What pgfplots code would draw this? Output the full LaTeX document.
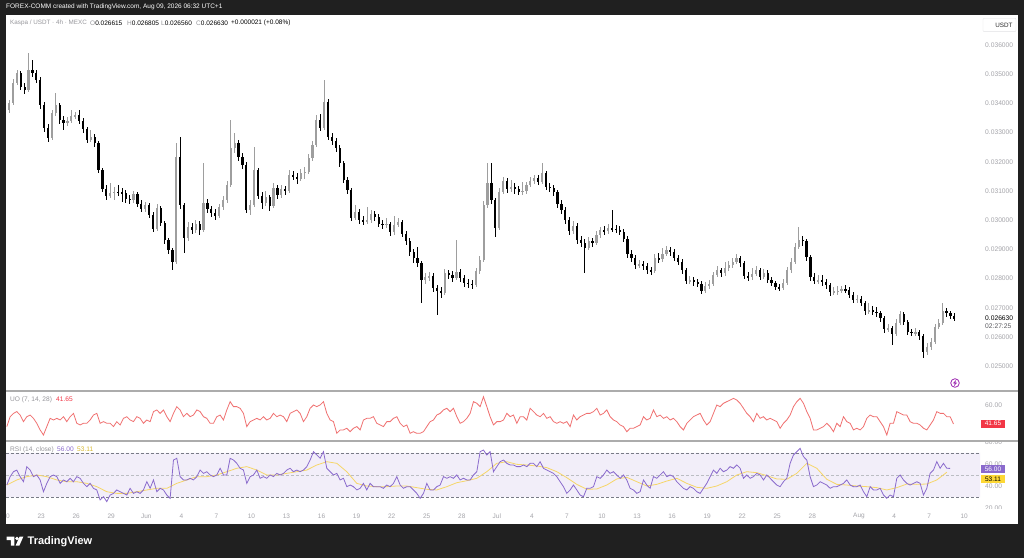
\documentclass[border=0pt]{standalone}
\usepackage{fontspec}
\setmainfont{Liberation Sans}
\usepackage{pgfplots}
\usepackage{pgfplotstable}
\pgfplotsset{compat=1.18}
\definecolor{framec}{RGB}{32,32,32}
\definecolor{upc}{RGB}{158,158,158}
\definecolor{dnc}{RGB}{0,0,0}
\definecolor{uoc}{RGB}{240,112,112}
\definecolor{rsic}{RGB}{138,106,204}
\definecolor{mac}{RGB}{246,214,104}
\definecolor{bandc}{RGB}{242,238,249}
\definecolor{lblc}{RGB}{165,165,170}
\definecolor{legc}{RGB}{150,150,155}
\definecolor{sepc}{RGB}{172,172,172}
\definecolor{flagr}{RGB}{242,54,69}
\definecolor{flagy}{RGB}{253,216,53}
\definecolor{boltc}{RGB}{156,39,176}
\definecolor{dashc}{RGB}{120,123,134}
\newcommand\fs[1]{\fontsize{#1}{#1}\selectfont}

\pgfplotstableread{
i O H L C
0 337.7 341.2 336.8 340.1
1 340.1 348.3 339.4 347.0
2 347.0 351.6 346.2 350.4
3 350.4 351.2 344.5 345.6
4 345.6 347.0 343.2 344.6
5 344.6 357.3 343.9 351.4
6 351.4 354.9 349.2 350.4
7 350.4 351.3 346.9 348.0
8 348.0 348.9 338.2 339.5
9 339.5 340.4 330.1 331.6
10 331.6 332.8 326.9 328.2
11 328.2 337.9 327.6 336.7
12 336.7 343.6 335.8 339.5
13 339.5 340.2 333.1 334.3
14 334.3 335.6 331.0 333.3
15 333.3 335.2 332.4 334.0
16 334.0 337.8 333.2 335.7
17 335.7 337.1 334.6 336.0
18 336.0 337.6 333.1 334.0
19 334.0 334.9 330.0 331.2
20 331.2 332.0 326.3 327.5
21 327.5 330.9 326.8 328.5
22 328.5 329.4 325.1 326.4
23 326.4 327.0 316.0 317.2
24 317.2 318.0 309.5 310.7
25 310.7 311.9 307.0 308.3
26 308.3 312.8 307.6 309.3
27 309.3 311.4 306.9 309.7
28 309.7 312.1 308.2 309.5
29 309.5 311.0 306.4 309.3
30 309.3 310.2 306.0 307.3
31 307.3 308.8 305.7 306.9
32 306.9 310.1 306.0 309.0
33 309.0 309.8 304.6 305.5
34 305.5 306.9 302.7 303.8
35 303.8 306.4 302.9 305.2
36 305.2 306.0 300.6 301.8
37 301.8 302.9 295.8 297.0
38 297.0 305.4 296.3 304.2
39 304.2 305.0 297.9 299.0
40 299.0 299.8 292.0 293.2
41 293.2 294.0 288.5 289.8
42 289.8 290.6 282.9 285.7
43 285.7 326.4 284.9 321.6
44 321.6 328.5 304.0 305.2
45 305.2 306.0 288.8 293.9
46 293.9 299.4 292.8 297.7
47 297.7 299.0 295.2 296.6
48 296.6 300.1 295.7 298.7
49 298.7 299.6 294.9 296.6
50 296.6 319.6 295.8 305.9
51 305.9 307.1 302.6 303.8
52 303.8 305.0 301.1 302.5
53 302.5 303.8 300.2 301.4
54 301.4 305.7 300.6 304.5
55 304.5 308.4 303.5 306.9
56 306.9 313.4 305.8 312.1
57 312.1 334.3 311.2 324.7
58 324.7 329.8 323.1 326.4
59 326.4 327.3 320.2 321.6
60 321.6 323.0 317.5 318.9
61 318.9 319.8 302.3 303.5
62 303.5 306.9 301.8 305.2
63 305.2 325.1 304.6 317.2
64 317.2 318.0 307.1 308.3
65 308.3 309.5 303.7 305.9
66 305.9 309.9 305.0 307.9
67 307.9 308.7 303.2 304.9
68 304.9 312.6 304.1 311.0
69 311.0 312.2 307.4 308.6
70 308.6 312.0 307.7 310.7
71 310.7 311.8 308.6 310.0
72 310.0 317.1 309.2 315.5
73 315.5 316.9 313.6 314.8
74 314.8 316.3 312.5 314.1
75 314.1 317.4 313.3 316.2
76 316.2 318.1 314.0 316.5
77 316.5 322.5 315.7 321.3
78 321.3 327.2 320.4 325.8
79 325.8 335.9 325.0 334.3
80 334.3 336.2 330.5 331.6
81 331.6 348.0 330.8 340.5
82 340.5 341.4 327.4 328.5
83 328.5 330.0 325.9 327.1
84 327.1 328.3 323.4 324.7
85 324.7 325.9 318.2 319.6
86 319.6 320.4 312.6 313.8
87 313.8 314.9 309.0 310.3
88 310.3 311.1 299.6 300.8
89 300.8 305.2 299.9 302.8
90 302.8 303.9 298.7 300.1
91 300.1 301.6 298.2 299.4
92 299.4 304.5 298.6 300.1
93 300.1 303.4 299.2 302.1
94 302.1 303.0 299.8 301.1
95 301.1 302.2 297.6 298.7
96 298.7 300.0 297.1 298.4
97 298.4 300.9 297.5 298.7
98 298.7 299.5 294.7 295.9
99 295.9 301.3 295.0 298.4
100 298.4 300.7 297.6 299.4
101 299.4 300.2 294.1 295.3
102 295.3 296.4 291.6 292.9
103 292.9 293.8 287.9 289.1
104 289.1 290.3 285.4 287.0
105 287.0 290.9 284.1 285.3
106 285.3 286.2 271.6 279.5
107 279.5 282.0 278.3 280.5
108 280.5 282.4 279.2 280.9
109 280.9 281.8 275.5 276.8
110 276.8 277.9 267.5 275.8
111 275.8 277.2 273.4 275.1
112 275.1 283.3 274.3 281.9
113 281.9 283.1 279.8 281.2
114 281.2 282.6 278.9 280.2
115 280.2 293.2 279.4 282.3
116 282.3 283.4 279.0 280.2
117 280.2 281.3 277.1 278.5
118 278.5 279.9 276.8 278.2
119 278.2 279.4 276.3 277.8
120 277.8 283.8 277.0 282.6
121 282.6 287.6 281.5 286.4
122 286.4 306.6 285.8 305.2
123 305.2 319.6 304.3 312.7
124 312.7 319.6 305.6 306.9
125 306.9 307.7 294.2 297.3
126 297.3 311.0 296.5 309.7
127 309.7 314.8 308.9 313.4
128 313.4 314.6 309.4 310.7
129 310.7 313.9 309.6 311.4
130 311.4 312.7 309.1 310.7
131 310.7 311.8 308.5 309.7
132 309.7 313.0 308.8 310.0
133 310.0 313.2 309.1 312.1
134 312.1 314.7 311.3 313.4
135 313.4 315.6 312.5 314.4
136 314.4 315.4 311.9 313.1
137 313.1 319.6 312.4 316.2
138 316.2 317.0 310.3 311.4
139 311.4 312.8 309.6 311.0
140 311.0 312.1 308.4 309.7
141 309.7 310.5 304.3 305.5
142 305.5 306.8 302.2 303.5
143 303.5 304.4 298.8 300.1
144 300.1 301.0 295.1 296.3
145 296.3 299.8 295.4 298.0
146 298.0 298.9 292.0 293.2
147 293.2 294.6 290.9 292.2
148 292.2 293.4 281.9 290.5
149 290.5 294.2 289.7 292.9
150 292.9 294.0 290.8 292.2
151 292.2 296.3 291.4 294.9
152 294.9 297.8 293.9 296.6
153 296.6 298.0 295.0 296.2
154 296.2 298.6 295.3 297.3
155 297.3 303.5 295.9 297.0
156 297.0 298.4 295.6 296.8
157 296.8 298.1 294.8 295.9
158 295.9 296.9 292.4 293.6
159 293.6 294.5 287.2 288.4
160 288.4 289.8 285.8 287.0
161 287.0 288.1 283.3 284.6
162 284.6 286.5 283.6 284.9
163 284.9 286.0 282.9 284.3
164 284.3 285.4 281.6 282.9
165 282.9 284.0 281.2 282.5
166 282.5 288.3 281.8 287.0
167 287.0 288.6 285.3 286.6
168 286.6 290.5 285.7 288.4
169 288.4 291.0 287.6 289.8
170 289.8 290.9 287.8 289.1
171 289.1 290.2 285.9 287.0
172 287.0 288.1 284.5 285.7
173 285.7 286.6 281.7 282.9
174 282.9 283.8 278.0 279.2
175 279.2 280.9 278.1 279.5
176 279.5 280.6 277.5 278.8
177 278.8 279.9 277.0 278.2
178 278.2 279.1 274.6 275.8
179 275.8 278.7 275.0 277.5
180 277.5 279.6 276.3 278.2
181 278.2 282.4 277.4 281.2
182 281.2 284.3 280.5 282.9
183 282.9 283.8 280.6 281.9
184 281.9 285.6 281.0 283.6
185 283.6 285.9 282.7 284.6
186 284.6 287.0 283.8 285.7
187 285.7 288.4 285.0 287.0
188 287.0 287.9 284.1 285.3
189 285.3 286.1 279.7 280.9
190 280.9 282.2 279.3 280.5
191 280.5 283.6 279.6 281.6
192 281.6 284.2 280.8 282.9
193 282.9 283.7 279.4 280.5
194 280.5 283.3 279.7 281.9
195 281.9 282.8 278.4 279.5
196 279.5 280.6 277.3 278.5
197 278.5 279.3 276.0 277.1
198 277.1 278.2 275.9 276.8
199 276.8 279.7 276.0 278.5
200 278.5 284.0 277.8 282.9
201 282.9 286.9 282.0 285.7
202 285.7 292.1 284.9 290.8
203 290.8 297.7 290.0 293.2
204 293.2 294.6 291.2 292.9
205 292.9 293.7 286.2 287.4
206 287.4 288.2 279.3 280.5
207 280.5 281.9 278.1 279.2
208 279.2 281.4 278.0 279.5
209 279.5 281.2 277.6 278.8
210 278.8 280.0 276.5 277.8
211 277.8 278.6 274.2 275.4
212 275.4 277.1 274.3 275.6
213 275.6 277.6 274.5 275.8
214 275.8 277.5 274.9 276.4
215 276.4 277.9 275.0 276.1
216 276.1 277.0 273.2 274.4
217 274.4 275.3 271.5 272.7
218 272.7 274.4 271.6 273.0
219 273.0 274.2 270.5 271.6
220 271.6 272.4 267.7 268.9
221 268.9 271.5 268.0 269.2
222 269.2 270.6 267.4 268.6
223 268.6 270.3 266.9 268.2
224 268.2 269.0 265.3 266.5
225 266.5 267.3 261.5 262.7
226 262.7 264.5 261.8 263.0
227 263.0 263.9 257.3 261.0
228 261.0 266.0 260.3 264.8
229 264.8 269.0 264.0 267.9
230 267.9 268.6 264.0 265.1
231 265.1 265.9 260.6 261.7
232 261.7 262.9 260.2 261.4
233 261.4 263.0 260.3 261.6
234 261.6 262.4 259.1 260.3
235 260.3 261.1 252.8 254.9
236 254.9 257.8 254.0 256.6
237 256.6 259.6 255.7 258.3
238 258.3 264.6 257.6 263.4
239 263.4 266.0 262.6 264.8
240 264.8 271.6 264.1 268.9
241 268.9 269.8 267.0 268.2
242 268.2 268.9 266.1 267.2
243 267.2 268.1 265.6 266.3
}\candles

\pgfplotstableread[row sep=\\]{v\\
39.1\\48.7\\51.9\\53.6\\50.3\\43.9\\48.7\\50.3\\47.1\\42.3\\
35.9\\31.0\\39.1\\47.1\\45.5\\47.1\\45.5\\48.7\\43.9\\48.7\\
51.9\\42.3\\40.7\\42.3\\42.3\\45.5\\50.3\\51.9\\42.3\\43.9\\
42.3\\42.3\\39.1\\43.9\\40.7\\47.1\\48.7\\45.5\\43.9\\48.7\\
47.1\\42.3\\45.5\\43.9\\53.6\\55.2\\51.9\\55.2\\48.7\\43.9\\
51.9\\58.4\\55.2\\48.7\\51.9\\48.7\\50.3\\55.2\\53.6\\48.7\\
47.1\\42.3\\42.3\\48.7\\50.3\\45.5\\55.2\\63.2\\58.4\\58.4\\
56.8\\51.9\\39.1\\43.9\\45.5\\47.1\\45.5\\48.7\\45.5\\47.1\\
51.9\\48.7\\50.3\\48.7\\43.9\\51.9\\53.6\\55.2\\51.9\\43.9\\
48.7\\56.8\\60.0\\58.4\\60.0\\63.2\\51.9\\45.5\\43.9\\32.6\\
35.9\\35.9\\37.5\\
34.2\\37.5\\39.1\\35.9\\45.5\\47.1\\47.1\\48.7\\42.3\\40.7\\
39.1\\43.9\\43.9\\47.1\\48.7\\42.3\\39.1\\40.7\\32.6\\34.2\\
32.6\\32.6\\34.2\\39.1\\43.9\\45.5\\50.3\\51.9\\55.2\\56.8\\
53.6\\56.8\\48.7\\42.3\\43.9\\47.1\\51.9\\63.2\\61.6\\58.4\\
68.0\\58.4\\48.7\\40.7\\43.9\\43.9\\45.5\\51.9\\48.7\\50.3\\
42.3\\48.7\\48.7\\45.5\\56.8\\53.6\\50.3\\48.7\\51.9\\47.1\\
48.7\\43.9\\42.3\\43.9\\42.3\\43.9\\39.1\\50.3\\45.5\\48.7\\
50.3\\51.9\\51.9\\53.6\\56.8\\50.3\\51.9\\55.2\\48.7\\45.5\\
43.9\\40.7\\39.1\\34.2\\37.5\\37.5\\39.1\\40.7\\48.7\\45.5\\
47.1\\55.2\\48.7\\50.3\\47.1\\48.7\\45.5\\47.1\\43.9\\
39.1\\35.9\\42.3\\45.5\\48.7\\50.3\\51.9\\45.5\\40.7\\43.9\\
51.9\\60.0\\58.4\\61.6\\63.2\\64.8\\66.4\\64.8\\61.6\\56.8\\
51.9\\48.7\\43.9\\51.9\\47.1\\48.7\\45.5\\47.1\\45.5\\43.9\\
37.5\\42.3\\45.5\\50.3\\58.4\\63.2\\66.4\\61.6\\53.6\\47.1\\
35.9\\35.9\\37.5\\39.1\\42.3\\39.1\\34.2\\42.3\\39.1\\48.7\\
43.9\\42.3\\35.9\\37.5\\35.9\\39.1\\47.1\\50.3\\48.7\\48.7\\
43.9\\39.1\\31.0\\42.3\\42.3\\53.6\\51.9\\50.3\\50.3\\43.9\\
42.3\\42.3\\40.7\\37.5\\35.9\\40.7\\45.5\\53.6\\51.9\\51.9\\
48.7\\48.7\\41.7\\
}\uodata

\pgfplotstableread[row sep=\\]{v\\
40.9\\48.5\\53.0\\54.5\\48.5\\43.9\\57.6\\54.5\\48.5\\50.0\\
45.5\\34.8\\42.4\\48.5\\50.0\\48.5\\42.4\\45.5\\43.9\\47.0\\
43.9\\48.5\\47.0\\42.4\\39.4\\42.4\\37.9\\36.4\\27.3\\30.3\\
25.8\\31.8\\33.3\\36.4\\34.8\\33.3\\31.8\\37.9\\33.3\\34.8\\
33.3\\36.4\\43.9\\37.9\\45.5\\34.8\\37.9\\36.4\\31.8\\28.8\\
63.6\\65.2\\48.5\\45.5\\45.5\\47.0\\45.5\\48.5\\54.5\\51.5\\
53.0\\50.0\\48.5\\50.0\\56.1\\50.0\\50.0\\65.2\\63.6\\60.6\\
56.1\\54.5\\42.4\\48.5\\50.0\\54.5\\47.0\\48.5\\47.0\\50.0\\
48.5\\51.5\\50.0\\51.5\\54.5\\56.1\\53.0\\54.5\\53.0\\54.5\\
57.6\\63.6\\71.2\\68.2\\65.2\\71.2\\56.1\\53.0\\50.0\\51.5\\
45.5\\47.0\\39.4\\
40.9\\39.4\\36.4\\37.9\\42.4\\36.4\\42.4\\39.4\\39.4\\39.4\\
37.9\\40.9\\39.4\\42.4\\48.5\\40.9\\37.9\\39.4\\39.4\\36.4\\
33.3\\28.8\\33.3\\42.4\\36.4\\36.4\\39.4\\40.9\\48.5\\47.0\\
48.5\\47.0\\50.0\\45.5\\47.0\\45.5\\45.5\\50.0\\53.0\\71.2\\
72.7\\68.2\\71.2\\53.0\\57.6\\62.1\\63.6\\60.6\\59.1\\59.1\\
57.6\\57.6\\59.1\\57.6\\60.6\\60.6\\57.6\\62.1\\56.1\\54.5\\
53.0\\51.5\\48.5\\43.9\\39.4\\33.3\\36.4\\40.9\\36.4\\31.8\\
30.3\\37.9\\37.9\\39.4\\48.5\\47.0\\50.0\\54.5\\51.5\\53.0\\
50.0\\47.0\\50.0\\45.5\\37.9\\36.4\\33.3\\34.8\\45.5\\40.9\\
37.9\\48.5\\47.0\\50.0\\53.0\\48.5\\50.0\\48.5\\43.9\\
40.9\\37.9\\36.4\\39.4\\37.9\\34.8\\33.3\\37.9\\42.4\\48.5\\
54.5\\51.5\\56.1\\53.0\\54.5\\57.6\\56.1\\59.1\\56.1\\47.0\\
50.0\\47.0\\48.5\\51.5\\50.0\\45.5\\50.0\\47.0\\43.9\\40.9\\
39.4\\43.9\\47.0\\60.6\\68.2\\71.2\\74.2\\66.7\\63.6\\48.5\\
39.4\\40.9\\43.9\\42.4\\40.9\\37.9\\39.4\\39.4\\40.9\\42.4\\
45.5\\40.9\\39.4\\39.4\\40.9\\34.8\\30.3\\39.4\\36.4\\36.4\\
37.9\\31.8\\28.8\\31.8\\30.3\\47.0\\50.0\\45.5\\42.4\\40.9\\
42.4\\43.9\\42.4\\31.8\\37.9\\51.5\\54.5\\62.1\\56.1\\60.6\\
56.1\\56.0\\
}\rsidata

\pgfplotstableread[row sep=\\]{v\\
40.9\\45.5\\48.5\\50.0\\48.5\\45.5\\43.9\\43.9\\42.4\\39.4\\
34.8\\33.3\\33.3\\34.8\\36.4\\37.9\\37.9\\42.4\\45.5\\48.5\\
48.5\\50.0\\53.0\\56.1\\57.6\\54.5\\50.0\\50.0\\51.5\\53.0\\
54.5\\59.1\\62.1\\60.6\\53.0\\
42.4\\40.0\\39.4\\39.4\\40.0\\40.0\\38.5\\37.0\\36.4\\39.4\\
43.0\\44.8\\47.0\\53.0\\60.6\\62.1\\59.7\\59.1\\58.2\\56.7\\
53.0\\47.6\\41.5\\37.0\\37.3\\40.9\\46.4\\47.9\\43.9\\40.0\\
41.5\\44.5\\47.0\\
42.4\\38.8\\37.9\\40.0\\43.9\\50.0\\53.0\\52.1\\49.4\\46.4\\
46.1\\51.5\\60.6\\56.1\\46.1\\41.5\\40.9\\40.0\\39.4\\38.5\\
36.4\\38.5\\41.8\\41.5\\41.8\\45.5\\52.5\\
}\madata

\pgfplotsset{
  paneax/.style={scale only axis, width=974pt, anchor=south west,
    xmin=-0.79, xmax=249.6,
    axis line style={draw=none}, major tick length=0pt, tick style={draw=none},
    ytick pos=right, yticklabel pos=right,
    yticklabel style={anchor=west, inner sep=0pt, xshift=5pt, font=\fs{6.7}, text=lblc},
  },
  candle/.style 2 args={draw=none, mark=none,
    error bars/y dir=both, error bars/y explicit, error bars/error mark=none,
    error bars/error bar style={draw=#1, solid, line width=#2}},
}

\begin{document}
\begin{tikzpicture}[x=1pt,y=1pt]
\fill[framec] (0,0) rectangle (1024,558);
\fill[white] (6,34) rectangle (1018,543);

% ---------- RSI pane ----------
\begin{axis}[paneax, at={(6pt,50pt)}, height=67pt, ymin=20, ymax=80.9,
  ytick={20,40,60,80}, yticklabels={20.00,40.00,60.00,80.00},
  xtick={-0.769,8.242,17.253,26.264,35.275,44.285,53.296,62.307,71.318,80.329,89.339,98.350,107.361,116.372,125.383,134.393,143.404,152.415,161.426,170.437,179.447,188.458,197.469,206.480,218.494,227.505,236.516,245.527},
  xticklabels={20,23,26,29,Jun,4,7,10,13,16,19,22,25,28,Jul,4,7,10,13,16,19,22,25,28,Aug,4,7,10},
  xticklabel style={font=\fs{6.5}, text=lblc, anchor=center, inner sep=0pt, yshift=-8pt}]
\addplot[draw=none, fill=bandc] coordinates {(-0.79,30) (249.6,30) (249.6,70) (-0.79,70) (-0.79,30)};
\addplot[dashc, line width=0.6pt, dash pattern=on 3pt off 2pt] coordinates {(-0.79,70) (249.6,70)};
\addplot[dashc!50, line width=0.6pt, dash pattern=on 3pt off 2pt] coordinates {(-0.79,50) (249.6,50)};
\addplot[dashc, line width=0.6pt, dash pattern=on 3pt off 2pt] coordinates {(-0.79,30) (249.6,30)};
\addplot[mac, line width=0.8pt] table[x expr={2.5707*\coordindex-0.5835}, y=v] {\madata};
\addplot[rsic, line width=0.8pt] table[x expr={0.8569*\coordindex-0.5835}, y=v] {\rsidata};
\end{axis}

% ---------- UO pane ----------
\begin{axis}[paneax, at={(6pt,117pt)}, height=50pt, ymin=25.2, ymax=73.5,
  xtick=\empty, ytick={60}, yticklabels={60.00}]
\addplot[uoc, line width=0.8pt] table[x expr={0.8569*\coordindex-0.5835}, y=v] {\uodata};
\end{axis}

% ---------- Price pane ----------
\begin{axis}[paneax, at={(6pt,167pt)}, height=376pt, ymin=241.51, ymax=370.27,
  xtick=\empty, ytick={250,260,...,360},
  yticklabels={0.025000,0.026000,0.027000,0.028000,0.029000,0.030000,0.031000,0.032000,0.033000,0.034000,0.035000,0.036000}]
\addplot[restrict expr to domain={\thisrow{C}-\thisrow{O}}{0:1000}, candle={upc}{0.65pt}]
  table[x=i, y expr={(\thisrow{H}+\thisrow{L})/2}, y error expr={(\thisrow{H}-\thisrow{L})/2}] {\candles};
\addplot[restrict expr to domain={\thisrow{C}-\thisrow{O}}{-1000:-0.01}, candle={dnc}{0.65pt}]
  table[x=i, y expr={(\thisrow{H}+\thisrow{L})/2}, y error expr={(\thisrow{H}-\thisrow{L})/2}] {\candles};
\addplot[restrict expr to domain={\thisrow{C}-\thisrow{O}}{0:1000}, candle={upc}{2.2pt}]
  table[x=i, y expr={(\thisrow{O}+\thisrow{C})/2}, y error expr={max(abs(\thisrow{C}-\thisrow{O})/2,0.2)}] {\candles};
\addplot[restrict expr to domain={\thisrow{C}-\thisrow{O}}{-1000:-0.01}, candle={dnc}{2.2pt}]
  table[x=i, y expr={(\thisrow{O}+\thisrow{C})/2}, y error expr={max(abs(\thisrow{C}-\thisrow{O})/2,0.2)}] {\candles};
\end{axis}

% cover cut labels
\fill[white] (981,117.6) rectangle (1017,123);
\fill[white] (981,43) rectangle (1017,49.3);
% separators
\draw[sepc, line width=1.4pt] (6,167) -- (1018,167);
\draw[sepc, line width=1.4pt] (6,117) -- (1018,117);

% legends
\begin{scope}[every node/.style={inner sep=0pt, anchor=west, font=\fs{6.5}}]
\node[text=legc, font=\fs{6.3}] at (10,534.7) {Kaspa / USDT · 4h · MEXC};
\node at (90,534.7) {\textcolor{legc}{O}0.026615};
\node at (127,534.7) {\textcolor{legc}{H}0.026805};
\node at (161,534.7) {\textcolor{legc}{L}0.026560};
\node at (196,534.7) {\textcolor{legc}{C}0.026630};
\node at (231,534.7) {+0.000021 (+0.08\%)};
\node[text=legc, font=\fs{6.6}] at (10,158.7) {UO (7, 14, 28)};
\node[text=flagr, font=\fs{6.6}] at (56,158.7) {41.65};
\node[text=legc, font=\fs{6.6}] at (10,108.7) {RSI (14, close)};
\node[text=rsic, font=\fs{6.6}] at (57,108.7) {56.00};
\node[text=flagy!85!black, font=\fs{6.6}] at (77,108.7) {53.11};
\node[font=\fs{6.7}] at (985,239.7) {0.026630};
\node[text={rgb,255:red,90;green,90;blue,95}, font=\fs{6.7}] at (985,232) {02:27:25};
\end{scope}

% flags
\fill[flagr] (981,130) rectangle (1005,138.5);
\node[text=white, inner sep=0pt, font=\fs{6.5}] at (993,134.25) {41.65};
\fill[rsic] (981,84.7) rectangle (1005,93);
\node[text=white, inner sep=0pt, font=\fs{6.5}] at (993,88.85) {56.00};
\fill[flagy] (981,75) rectangle (1005,83.3);
\node[text=black, inner sep=0pt, font=\fs{6.5}] at (993,79.15) {53.11};

% USDT box
\draw[fill=white, draw={rgb,255:red,225;green,225;blue,228}, rounded corners=1pt] (983,526.3) rectangle (1016,539.7);
\node[inner sep=0pt, font=\fs{6.3}, text={rgb,255:red,40;green,40;blue,40}] at (1004,533) {USDT};

% lightning icon
\draw[boltc, line width=0.8pt] (955,175) circle (4.3);
\fill[boltc] (956.2,178.3) -- (952.9,174.6) -- (954.8,174.6) -- (953.8,171.7) -- (957.1,175.4) -- (955.2,175.4) -- cycle;

% top bar text
\node[anchor=west, inner sep=0pt, text=white, font=\fs{6.5}] at (6,550.7) {FOREX-COMM created with TradingView.com, Aug 09, 2026 06:32 UTC+1};

% logo
\fill[white] (6.7,21.3) -- (14.3,21.3) -- (14.3,12.3) -- (10.8,12.3) -- (10.8,17.8) -- (6.7,17.8) -- cycle;
\fill[white] (17.0,19.5) circle (1.8);
\fill[white] (15.6,12.3) -- (19.3,12.3) -- (23.3,21.3) -- (19.6,21.3) -- cycle;
\node[anchor=west, inner sep=0pt, text=white, font=\fs{11}\bfseries] at (27.5,16.6) {TradingView};

% left border over cut tick label
\fill[framec] (0,34) rectangle (6,543);
\end{tikzpicture}
\end{document}
